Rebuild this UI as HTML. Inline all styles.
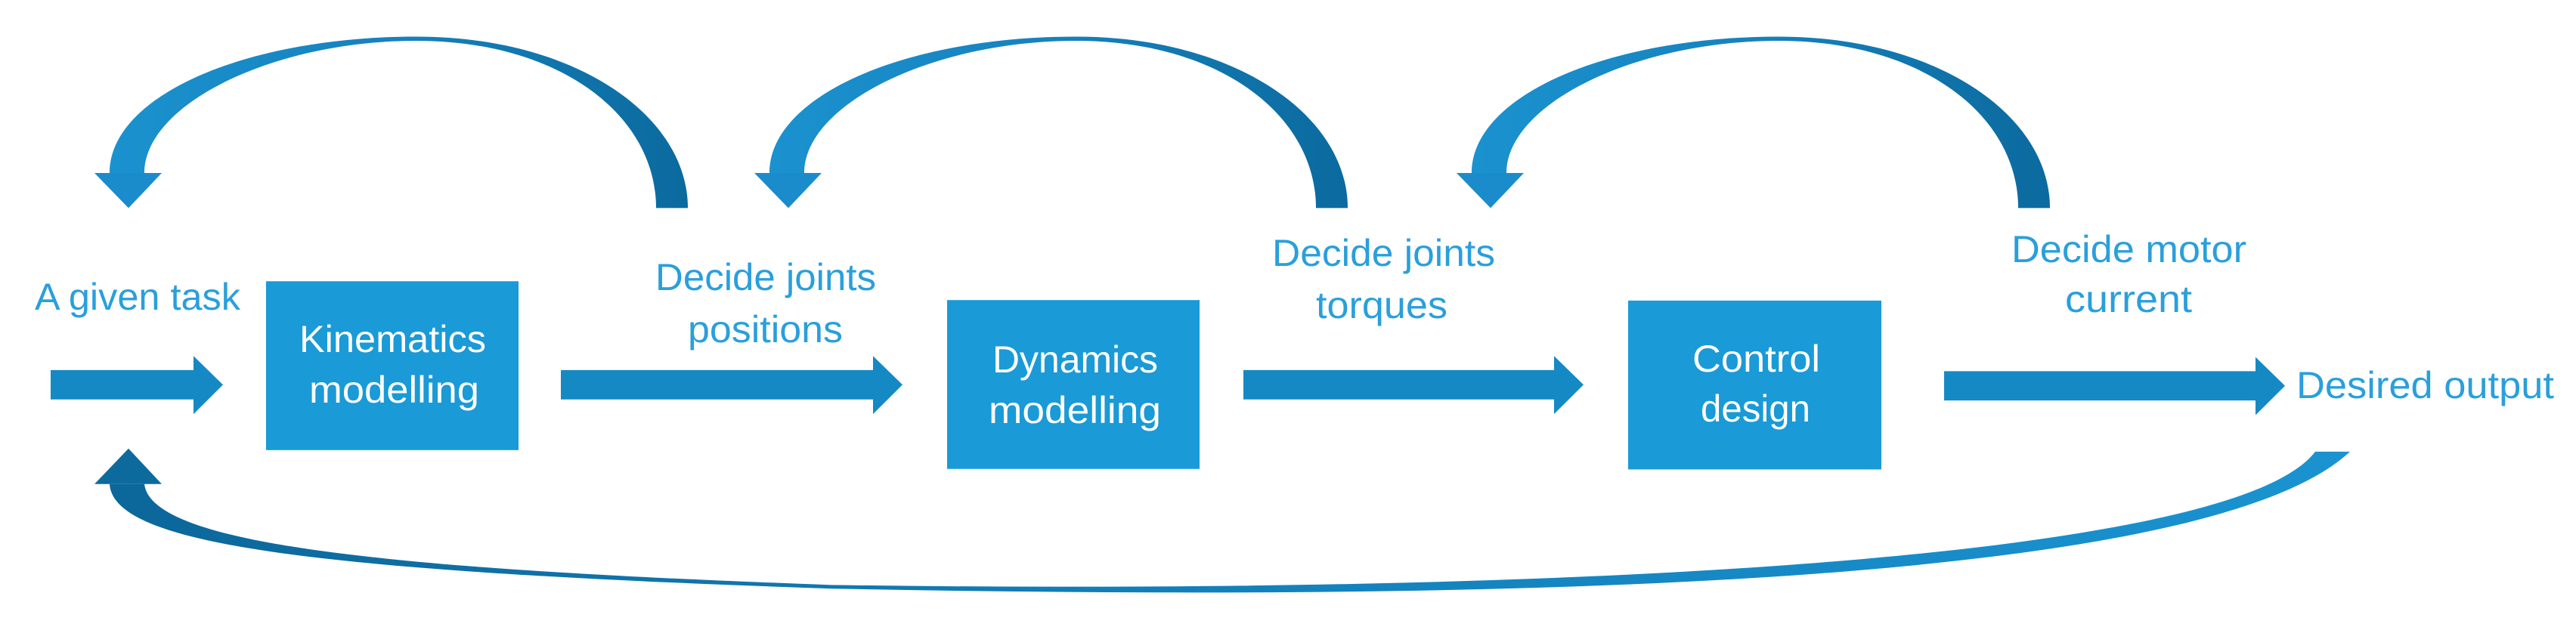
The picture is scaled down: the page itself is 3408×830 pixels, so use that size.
<!DOCTYPE html>
<html><head><meta charset="utf-8"><style>html,body{margin:0;padding:0;background:#fff;overflow:hidden}svg{display:block}</style></head>
<body>
<svg width="3408" height="830" viewBox="0 0 3408 830" xmlns="http://www.w3.org/2000/svg">
<defs>
<linearGradient id="ga" x1="0" y1="0" x2="1" y2="0">
<stop offset="0" stop-color="#1a92cf"/><stop offset="0.5" stop-color="#1681bd"/><stop offset="1" stop-color="#0b6a9e"/>
</linearGradient>
<linearGradient id="gb" x1="0" y1="0" x2="1" y2="0">
<stop offset="0" stop-color="#0c679a"/><stop offset="0.5" stop-color="#1380bb"/><stop offset="1" stop-color="#1a93d0"/>
</linearGradient>
<g id="arc">
<path d="M910,398 C910,220 760,70 551,70 C330,70 145,180 145,331 L191,331 C191,200 360,78 551,78 C740,78 868,220 868,398 Z" fill="url(#ga)"/>
<polygon points="125,331 214,331 170,398" fill="#1a8ccb"/>
</g>
</defs>
<g transform="scale(1,0.692)">
<use href="#arc"/>
<use href="#arc" transform="translate(873,0)"/>
<use href="#arc" transform="translate(1802,0)"/>
<path d="M145,926 C150,1040 400,1092 1100,1126 C2000,1152 2920,1120 3109,864 L3063,864 C2950,1080 2000,1138 1100,1119 C500,1088 200,1040 191,926 Z" fill="url(#gb)"/>
<polygon points="125,926 214,926 170,858" fill="#0d6a9d"/>
<g fill="#1589c4">
<polygon points="67,708 256,708 256,681 295,736 256,792 256,764 67,764"/>
<polygon points="742,708 1155,708 1155,681 1194,736 1155,792 1155,764 742,764"/>
<polygon points="1645,708 2056,708 2056,681 2095,736 2056,792 2056,764 1645,764"/>
<polygon points="2572,710 2984,710 2984,683 3023,738 2984,794 2984,766 2572,766"/>
</g>
<g fill="#1a9ad7">
<rect x="352" y="538" width="334" height="323"/>
<rect x="1253" y="574" width="334" height="323"/>
<rect x="2154" y="575" width="335" height="323"/>
</g>
</g>
<g font-family="Liberation Sans, sans-serif" font-size="50" fill="#fff">
<text x="396" y="466" textLength="247" lengthAdjust="spacingAndGlyphs">Kinematics</text>
<text x="409" y="533" textLength="225" lengthAdjust="spacingAndGlyphs">modelling</text>
<text x="1313" y="493" textLength="219" lengthAdjust="spacingAndGlyphs">Dynamics</text>
<text x="1308" y="560" textLength="228" lengthAdjust="spacingAndGlyphs">modelling</text>
<text x="2239" y="492" textLength="169" lengthAdjust="spacingAndGlyphs">Control</text>
<text x="2250" y="558" textLength="145" lengthAdjust="spacingAndGlyphs">design</text>
</g>
<g font-family="Liberation Sans, sans-serif" font-size="50" fill="#2a9fdc">
<text x="46" y="410" textLength="272" lengthAdjust="spacingAndGlyphs">A given task</text>
<text x="867" y="384" textLength="292" lengthAdjust="spacingAndGlyphs">Decide joints</text>
<text x="910" y="453" textLength="205" lengthAdjust="spacingAndGlyphs">positions</text>
<text x="1683" y="352" textLength="295" lengthAdjust="spacingAndGlyphs">Decide joints</text>
<text x="1741" y="421" textLength="174" lengthAdjust="spacingAndGlyphs">torques</text>
<text x="2661" y="347" textLength="311" lengthAdjust="spacingAndGlyphs">Decide motor</text>
<text x="2732" y="413" textLength="168" lengthAdjust="spacingAndGlyphs">current</text>
<text x="3038" y="527" textLength="341" lengthAdjust="spacingAndGlyphs">Desired output</text>
</g>
</svg>
</body></html>
